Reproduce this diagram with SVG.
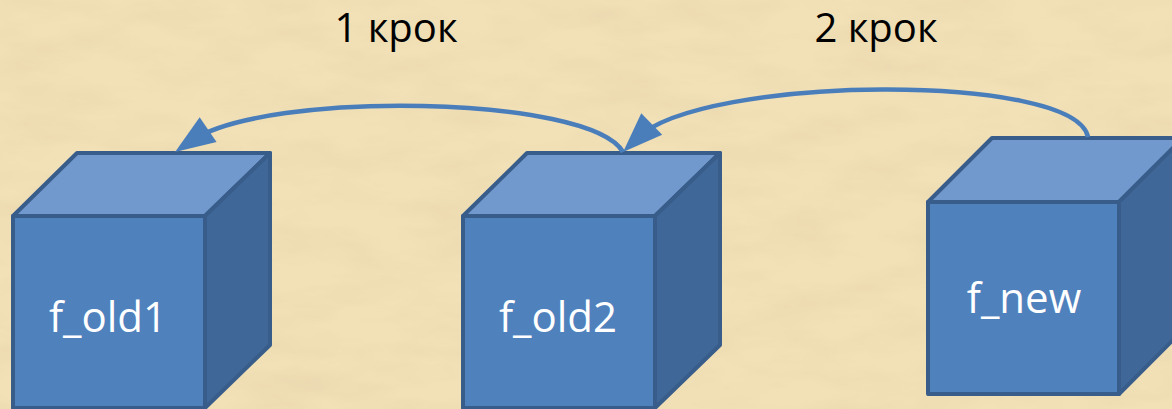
<svg xmlns="http://www.w3.org/2000/svg" width="1172" height="409" viewBox="0 0 1172 409">
  <style>
    .front { fill: #4F81BD; stroke: #385D8A; stroke-width: 4; stroke-linejoin: round; }
    .top { fill: #7299CD; stroke: #385D8A; stroke-width: 4; stroke-linejoin: round; }
    .side { fill: #3F6798; stroke: #385D8A; stroke-width: 4; stroke-linejoin: round; }
    .label { font-family: "Open Sans", "Liberation Sans", sans-serif; font-size: 42px; fill: #FFFFFF; text-anchor: middle; }
    .step { font-family: "Open Sans", "Liberation Sans", sans-serif; font-size: 40px; fill: #000000; text-anchor: middle; }
    .conn { fill: none; stroke: #4A7EBB; stroke-width: 4.5; marker-end: url(#arrow); }
  </style>
  <defs>
    <marker id="arrow" markerUnits="userSpaceOnUse" markerWidth="42" markerHeight="32" refX="20" refY="15" orient="auto" overflow="visible">
      <path d="M0,0 L40,15 L0,30 Z" fill="#4A7EBB"/>
    </marker>
    <filter id="paper" x="0" y="0" width="100%" height="100%">
      <feTurbulence type="fractalNoise" baseFrequency="0.012 0.035" numOctaves="4" seed="7" result="n"/>
      <feColorMatrix in="n" type="matrix" values="0 0 0 0 0.80  0 0 0 0 0.66  0 0 0 0 0.42  1.1 0 0 0 -0.42" result="c"/>
      <feMerge>
        <feMergeNode in="SourceGraphic"/>
        <feMergeNode in="c"/>
      </feMerge>
    </filter>
  </defs>

  <rect x="0" y="0" width="1172" height="409" fill="#F2E0B6" filter="url(#paper)"/>

  <g id="step1">
    <text class="step" x="396" y="42">1 крок</text>
  </g>
  <g id="step2">
    <text class="step" x="876" y="42">2 крок</text>
  </g>

  <g id="f_old1">
    <polygon class="front" points="13,216 205,216 205,408 13,408"/>
    <polygon class="top" points="13,216 77,153 270,153 205,216"/>
    <polygon class="side" points="205,216 270,153 270,345 205,408"/>
    <text class="label" x="108" y="332">f_old1</text>
  </g>

  <g id="f_old2">
    <polygon class="front" points="463,216 655,216 655,408 463,408"/>
    <polygon class="top" points="463,216 527,153 720,153 655,216"/>
    <polygon class="side" points="655,216 720,153 720,345 655,408"/>
    <text class="label" x="558" y="332">f_old2</text>
  </g>

  <g id="f_new">
    <polygon class="front" points="928,202 1119,202 1119,394 928,394"/>
    <polygon class="top" points="928,202 992,138 1183,138 1119,202"/>
    <polygon class="side" points="1119,202 1183,138 1183,330 1119,394"/>
    <text class="label" x="1024" y="313">f_new</text>
  </g>

  <g id="connectors">
    <path class="conn" d="M623,152 C590,95 266,90 191.6,140.8"/>
    <path class="conn" d="M1088,137 C1075,72 702,75 637.4,138"/>
  </g>
</svg>
